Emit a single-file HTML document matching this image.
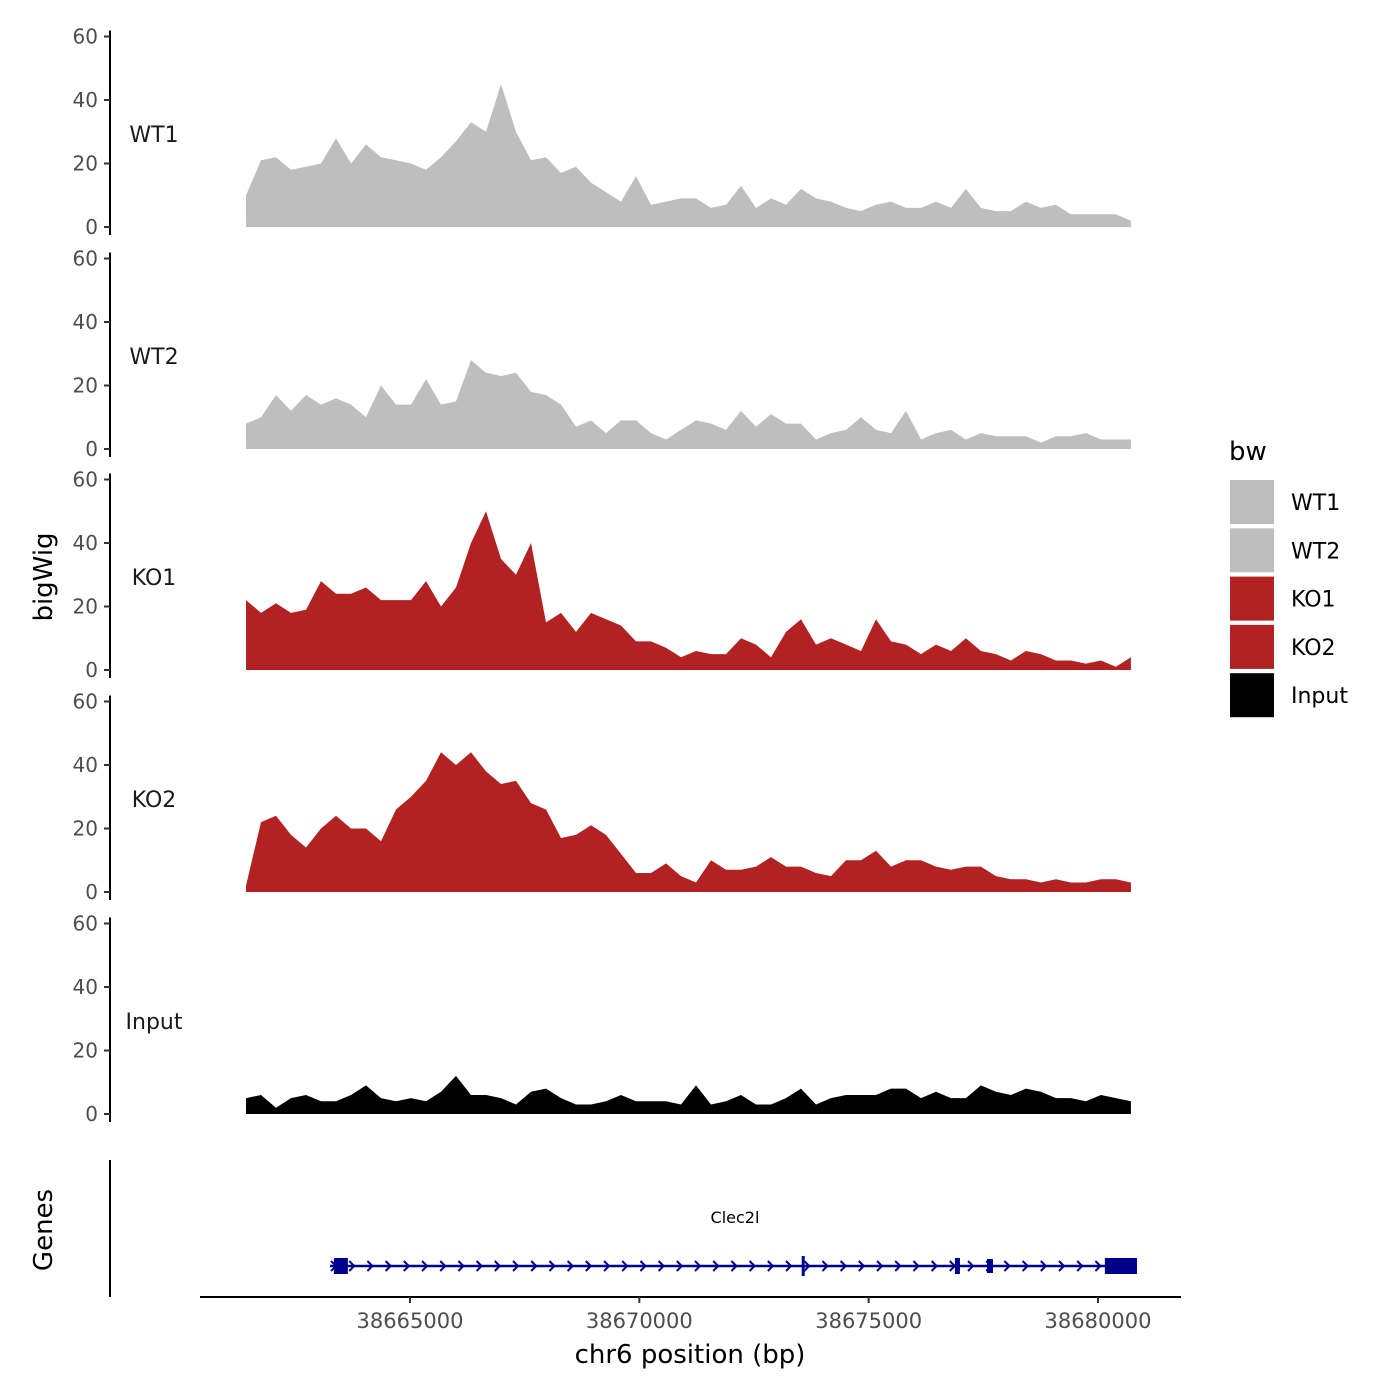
<!DOCTYPE html>
<html><head><meta charset="utf-8"><style>
html,body{margin:0;padding:0;background:#fff}
svg{display:block;font-family:"DejaVu Sans","Liberation Sans",sans-serif}
</style></head><body>
<svg id="chart" width="1400" height="1400" viewBox="0 0 1400 1400" xmlns="http://www.w3.org/2000/svg">
<rect width="1400" height="1400" fill="#fff"/>
<g id="tracks"></g>
<g id="genes"></g>
<text transform="translate(52,577) rotate(-90)" text-anchor="middle" font-size="26" fill="#000">bigWig</text>
<text transform="translate(52,1230) rotate(-90)" text-anchor="middle" font-size="26" fill="#000">Genes</text>
<line x1="110" y1="1160" x2="110" y2="1297" stroke="#000" stroke-width="2"/>
<line x1="200" y1="1297" x2="1181" y2="1297" stroke="#000" stroke-width="2"/>
<g id="xaxis"></g>
<text x="690" y="1363" text-anchor="middle" font-size="26" fill="#000">chr6 position (bp)</text>
<g id="legend">
<text x="1229" y="460" font-size="26" fill="#000">bw</text>
</g>
</svg>
<script>
const trackNames = ["WT1","WT2","KO1","KO2","Input"];
const trackColors = ["#bebebe","#bebebe","#b22222","#b22222","#000000"];
const binStart = 38661425;
const binEnd = 38680718;
const yTicks = [0,20,40,60];
const xTicks = [38665000,38670000,38675000,38680000];
const wt1 = [10,21,22,18,19,20,28,20,26,22,21,20,18,22,27,33,30,45,30,21,22,17,19,14,11,8,16,7,8,9,9,6,7,13,6,9,7,12,9,8,6,5,7,8,6,6,8,6,12,6,5,5,8,6,7,4,4,4,4,2];
const wt2 = [8,10,17,12,17,14,16,14,10,20,14,14,22,14,15,28,24,23,24,18,17,14,7,9,5,9,9,5,3,6,9,8,6,12,7,11,8,8,3,5,6,10,6,5,12,3,5,6,3,5,4,4,4,2,4,4,5,3,3,3];
const ko1 = [22,18,21,18,19,28,24,24,26,22,22,22,28,20,26,40,50,35,30,40,15,18,12,18,16,14,9,9,7,4,6,5,5,10,8,4,12,16,8,10,8,6,16,9,8,5,8,6,10,6,5,3,6,5,3,3,2,3,1,4];
const ko2 = [2,22,24,18,14,20,24,20,20,16,26,30,35,44,40,44,38,34,35,28,26,17,18,21,18,12,6,6,9,5,3,10,7,7,8,11,8,8,6,5,10,10,13,8,10,10,8,7,8,8,5,4,4,3,4,3,3,4,4,3];
const inputVals = [5,6,2,5,6,4,4,6,9,5,4,5,4,7,12,6,6,5,3,7,8,5,3,3,4,6,4,4,4,3,9,3,4,6,3,3,5,8,3,5,6,6,6,8,8,5,7,5,5,9,7,6,8,7,5,5,4,6,5,4];
const series = [wt1,wt2,ko1,ko2,inputVals];
const geneExons = [[38663340,38663645,16],[38673540,38673600,20],[38676880,38676990,16],[38677580,38677710,14],[38680150,38680850,16]];
const geneStart = 38663256, geneEnd = 38680850;

const NS="http://www.w3.org/2000/svg";
function mk(tag,attrs,parent){const e=document.createElementNS(NS,tag);for(const k in attrs)e.setAttribute(k,attrs[k]);parent.appendChild(e);return e;}
function xScale(bp){return 410+(bp-38665000)*(688/15000);}
const zeros=[227,449,670,892,1114];
const pxPerUnit=190.5/60;
const tracks=document.getElementById('tracks');
trackNames.forEach((name,ti)=>{
  const g=mk('g',{},tracks);
  
  
  const y0=zeros[ti];
  const yS=v=>y0-v*pxPerUnit;
  const ax=mk('line',{x1:110,y1:y0+8,x2:110,y2:yS(60)-6,stroke:'#000','stroke-width':2},g);
  
  
  yTicks.forEach(t=>{
    const tk=mk('line',{x1:104,y1:yS(t),x2:110,y2:yS(t),stroke:'#333','stroke-width':2},g);
    
    
    const tl=mk('text',{x:98,y:yS(t)+7,'text-anchor':'end','font-size':20,fill:'#4d4d4d'},g);
    tl.textContent=t;
    
    
  });
  const lab=mk('text',{x:154,y:y0-85,'text-anchor':'middle','font-size':22,fill:'#1a1a1a'},g);
  lab.textContent=name;
  
  
  const vals=series[ti];const n=vals.length;const step=(binEnd-binStart)/(n-1);
  let d='M'+xScale(binStart)+','+y0;
  vals.forEach((v,i)=>{d+=' L'+xScale(binStart+i*step).toFixed(1)+','+yS(v).toFixed(1);});
  d+=' L'+xScale(binEnd)+','+y0+' Z';
  const p=mk('path',{d:d,fill:trackColors[ti]},g);
  
  
});
const gg=document.getElementById('genes');
const gy=1266;
const gl=mk('line',{x1:xScale(geneStart),y1:gy,x2:xScale(geneEnd),y2:gy,stroke:'#00008b','stroke-width':2.5},gg);


for(let x=xScale(geneStart)+4;x<xScale(geneEnd)-6;x+=18.2){
  const c=mk('path',{d:`M${x-3},${gy-5} L${x+2},${gy} L${x-3},${gy+5}`,fill:'none',stroke:'#00008b','stroke-width':2},gg);
  
  
}
geneExons.forEach(e=>{
  const r=mk('rect',{x:xScale(e[0]),y:gy-e[2]/2,width:Math.max(3,xScale(e[1])-xScale(e[0])),height:e[2],fill:'#00008b'},gg);
  
  
});
const gt=mk('text',{x:735,y:1223,'text-anchor':'middle','font-size':16,fill:'#000'},gg);
gt.textContent='Clec2l';


const xa=document.getElementById('xaxis');
xTicks.forEach(t=>{
  const tk=mk('line',{x1:xScale(t),y1:1297,x2:xScale(t),y2:1303,stroke:'#333','stroke-width':2},xa);
  
  
  const tl=mk('text',{x:xScale(t),y:1328,'text-anchor':'middle','font-size':21,fill:'#4d4d4d'},xa);
  tl.textContent=t;
  
  
});
const lg=document.getElementById('legend');
trackNames.forEach((name,i)=>{
  const y=480+i*48.3;
  const r=mk('rect',{x:1230,y:y,width:44,height:44,fill:trackColors[i]},lg);
  
  
  const t=mk('text',{x:1291,y:y+30,'font-size':22,fill:'#000'},lg);
  t.textContent=name;
  
  
});
</script>
</body></html>
